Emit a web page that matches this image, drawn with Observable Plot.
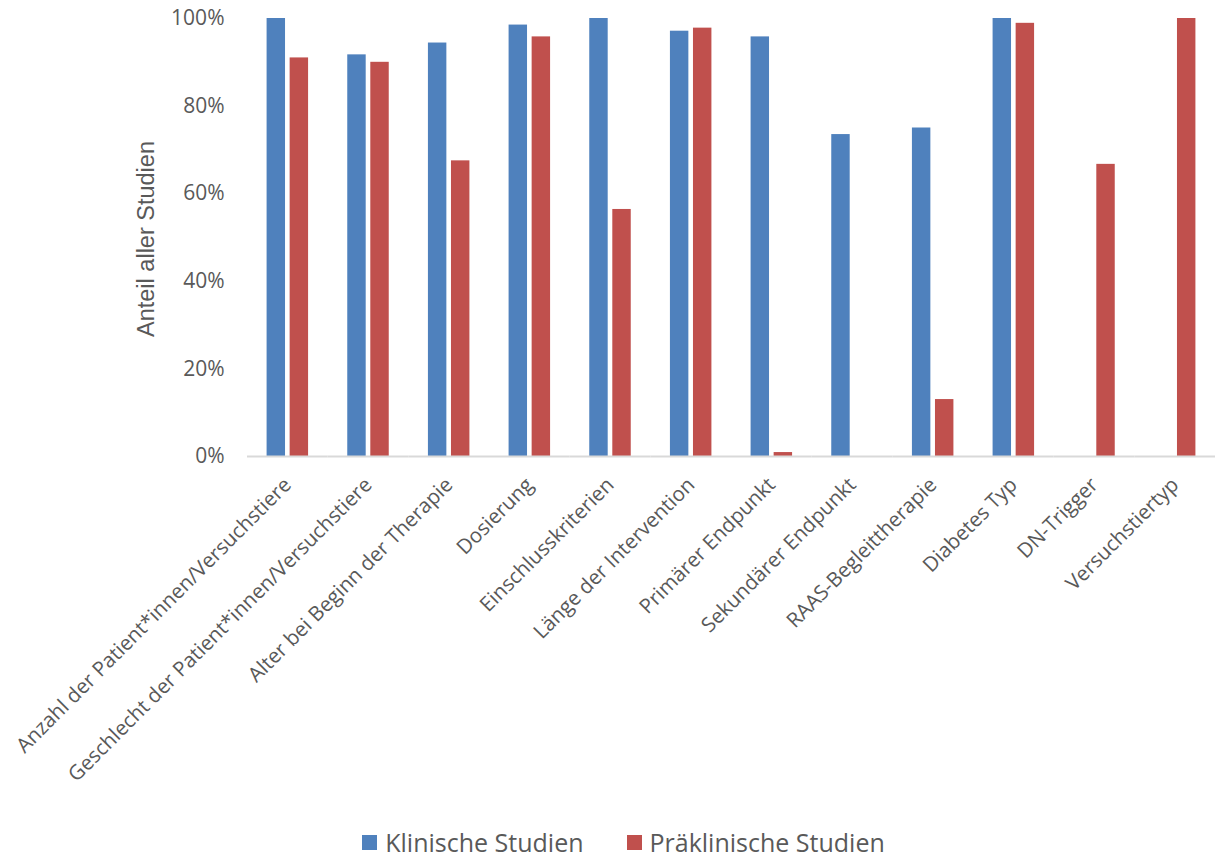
<!DOCTYPE html>
<html>
<head>
<meta charset="utf-8">
<script src="https://cdn.jsdelivr.net/npm/d3@7"></script>
<script src="https://cdn.jsdelivr.net/npm/@observablehq/plot@0.6"></script>
<style>
  body { margin: 0; background: #fff; font-family: "Open Sans", sans-serif; overflow: hidden; }
  #wrap { position: relative; width: 1215px; }
  #ytitle { position: absolute; left: 146px; top: 239px; transform: translate(-50%, -50%) rotate(-90deg); white-space: nowrap; font-family: "Liberation Sans", Arial, sans-serif; font-size: 23.5px; color: #595959; }
  #legend { display: flex; justify-content: center; gap: 43px; margin-top: 40px; height: 24px; font-size: 25px; line-height: 24px; color: #595959; font-family: "Open Sans", sans-serif; padding-left: 32px; }
  #legend span.item { display: flex; align-items: center; gap: 8px; }
  #legend span.sw { width: 15px; height: 15px; display: inline-block; }
</style>
</head>
<body>
<div id="wrap"><div id="chart"></div><div id="ytitle">Anteil aller Studien</div></div>
<div id="legend"></div>
<script>
const categories = [
  "Anzahl der Patient*innen/Versuchstiere",
  "Geschlecht der Patient*innen/Versuchstiere",
  "Alter bei Beginn der Therapie",
  "Dosierung",
  "Einschlusskriterien",
  "Länge der Intervention",
  "Primärer Endpunkt",
  "Sekundärer Endpunkt",
  "RAAS-Begleittherapie",
  "Diabetes Typ",
  "DN-Trigger",
  "Versuchstiertyp"
];
const seriesNames = ["Klinische Studien", "Präklinische Studien"];
const klinisch =     [100, 91.7, 94.4, 98.5, 100, 97.1, 95.8, 73.5, 75.0, 100, 0, 0];
const praeklinisch = [91.0, 90.0, 67.5, 95.8, 56.4, 97.8, 0.9, 0, 13.0, 98.9, 66.7, 100];
const colors = ["#4F81BD", "#C0504D"];
const yTicks = [0, 20, 40, 60, 80, 100];

const data = [];
categories.forEach((c, i) => {
  data.push({category: c, series: seriesNames[0], value: klinisch[i]});
  data.push({category: c, series: seriesNames[1], value: praeklinisch[i]});
});

const W = 1215, H = 790;
const chart = Plot.plot({
  width: W,
  height: H,
  marginLeft: 247,
  marginRight: 0,
  marginTop: 18,
  marginBottom: 334,
  style: {fontFamily: "'Open Sans', sans-serif", color: "#595959", background: "#fff"},
  fx: {domain: categories, padding: 0, round: false, label: null, axis: null},
  x: {domain: seriesNames, paddingInner: 0.2, paddingOuter: 0.85, round: false, axis: null},
  y: {domain: [0, 100], label: null, axis: null},
  color: {domain: seriesNames, range: colors},
  marks: [
    Plot.barY(data, {fx: "category", x: "series", y: "value", fill: "series"}),
    Plot.ruleY([0], {stroke: "#d9d9d9", strokeWidth: 2}),
    Plot.axisFx({anchor: "bottom", tickRotate: -45, tickSize: 0, tickPadding: 25, fontSize: 20.5, label: null}),
    Plot.axisY({ticks: yTicks, tickFormat: d => d + "%", tickSize: 0, tickPadding: 23, fontSize: 21, label: null})
  ]
});
document.getElementById("chart").appendChild(chart);

const legend = document.getElementById("legend");
seriesNames.forEach((s, i) => {
  const item = document.createElement("span");
  item.className = "item";
  const sw = document.createElement("span");
  sw.className = "sw";
  sw.style.background = colors[i];
  item.appendChild(sw);
  item.appendChild(document.createTextNode(s));
  legend.appendChild(item);
});
</script>
</body>
</html>
